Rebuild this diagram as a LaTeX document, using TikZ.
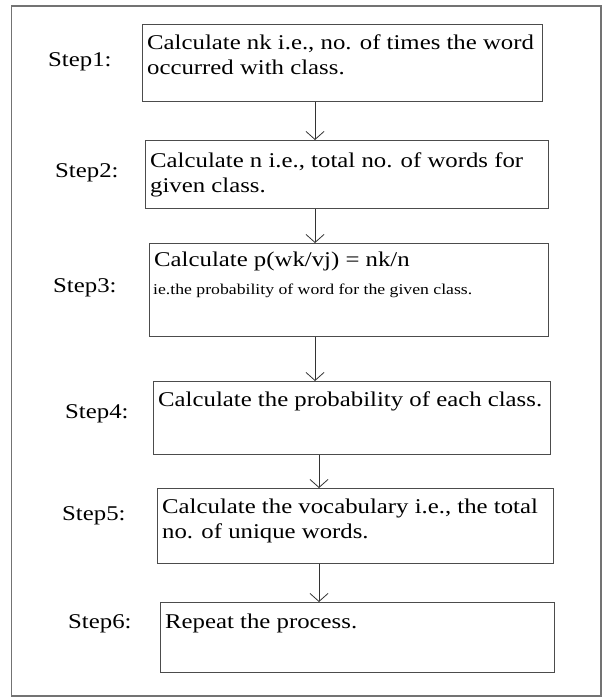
\documentclass[tikz,border=0pt]{standalone}
\usepackage{fontspec}
\setmainfont{Liberation Serif}
\usepackage{graphicx}
\usetikzlibrary{arrows.meta}

\newcommand{\wide}[1]{\scalebox{1.18}[1]{#1}}
\newcommand{\lines}[1]{\wide{\begin{tabular}[t]{@{}l@{}}#1\end{tabular}}}

\tikzstyle{stepbox} = [draw=black!70, line width=1.2pt, anchor=north west, inner sep=0pt]
\tikzstyle{txt} = [anchor=base west, inner sep=0pt, font=\fontsize{21}{25}\selectfont]
\tikzstyle{flow} = [draw=black!80, line width=0.8pt, -{Straight Barb[length=8pt,width=18pt]}]

\begin{document}
\begin{tikzpicture}[x=1pt, y=-1pt]
	\useasboundingbox (0,0) rectangle (603,698);

	% Frame
	\draw[black!55, line width=1.5pt] (11.5,6) rectangle (601,696);

	% Boxes
	\node[stepbox, minimum width=400pt, minimum height=77pt] (b1) at (142,24) {};
	\node[stepbox, minimum width=403pt, minimum height=68pt] (b2) at (145,140) {};
	\node[stepbox, minimum width=399pt, minimum height=93pt] (b3) at (149,243) {};
	\node[stepbox, minimum width=397pt, minimum height=73pt] (b4) at (153,381) {};
	\node[stepbox, minimum width=396pt, minimum height=75pt] (b5) at (157,488) {};
	\node[stepbox, minimum width=394pt, minimum height=70pt] (b6) at (160,602) {};

	% Box texts
	\node[txt] (t1) at ([shift={(5,26)}]b1.north west) {\lines{Calculate nk i.e., no. of times the word\\occurred with class.}};
	\node[txt] (t2) at ([shift={(5,27)}]b2.north west) {\lines{Calculate n i.e., total no. of words for\\given class.}};
	\node[txt] (t3) at ([shift={(5,23)}]b3.north west) {\wide{Calculate p(wk/vj) = nk/n}};
	\node[txt, font=\fontsize{15}{18}\selectfont] (t3b) at ([shift={(4,51)}]b3.north west) {\wide{ie.the probability of word for the given class.}};
	\node[txt] (t4) at ([shift={(5,25)}]b4.north west) {\wide{Calculate the probability of each class.}};
	\node[txt] (t5) at ([shift={(5,25)}]b5.north west) {\lines{Calculate the vocabulary i.e., the total\\no. of unique words.}};
	\node[txt] (t6) at ([shift={(5,26)}]b6.north west) {\wide{Repeat the process.}};

	% Step labels
	\node[txt] (s1) at (48,67) {\wide{Step1:}};
	\node[txt] (s2) at (55,177) {\wide{Step2:}};
	\node[txt] (s3) at (53,292) {\wide{Step3:}};
	\node[txt] (s4) at (65,418) {\wide{Step4:}};
	\node[txt] (s5) at (62,520) {\wide{Step5:}};
	\node[txt] (s6) at (68,628) {\wide{Step6:}};

	% Arrows
	\coordinate (ax1) at (315,0);
	\coordinate (ax2) at (319,0);
	\draw[flow] (b1.south -| ax1) -- (b2.north -| ax1);
	\draw[flow] (b2.south -| ax1) -- (b3.north -| ax1);
	\draw[flow] (b3.south -| ax1) -- (b4.north -| ax1);
	\draw[flow] (b4.south -| ax2) -- (b5.north -| ax2);
	\draw[flow] (b5.south -| ax2) -- (b6.north -| ax2);

\end{tikzpicture}
\end{document}
